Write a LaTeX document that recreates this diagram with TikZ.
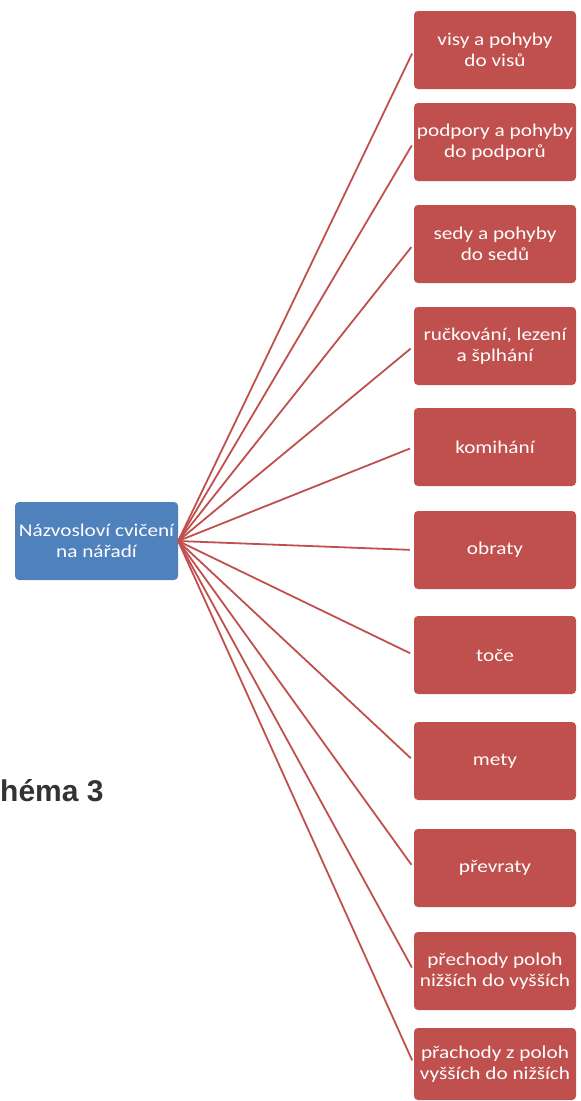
\documentclass[tikz,border=0pt]{standalone}
\usepackage{fontspec}
\usepackage{xcolor}
\setmainfont{Carlito}[FakeStretch=1.18]
\newfontfamily\schemafont{Liberation Sans}
\usetikzlibrary{positioning}

\definecolor{boxred}{HTML}{C0504D}
\definecolor{boxblue}{HTML}{4F81BD}

\begin{document}
\begin{tikzpicture}[x=1pt, y=-1pt, node distance=102pt,
    topic/.style={fill=boxred, rounded corners=4pt, text=white, align=center,
        minimum width=162pt, minimum height=78pt, inner sep=0pt,
        font=\fontsize{18}{21}\selectfont},
    root/.style={topic, fill=boxblue, minimum width=163pt},
    link/.style={draw=boxred, line width=1.8pt, shorten >=4pt}]
    \useasboundingbox (0,0) rectangle (581,1101);

    \node[root] (root) at (96.5,541) {Názvosloví cvičení\\na nářadí};

    \node[topic] (visy) at (495,50) {visy a pohyby\\do visů};
    \node[topic, below of=visy, node distance=92pt] (podpory) {podpory a pohyby\\do podporů};
    \node[topic, below of=podpory] (sedy) {sedy a pohyby\\do sedů};
    \node[topic, below of=sedy] (ruckovani) {ručkování, lezení\\a šplhání};
    \node[topic, below of=ruckovani, node distance=101pt] (komihani) {komihání};
    \node[topic, below of=komihani, node distance=103pt] (obraty) {obraty};
    \node[topic, below of=obraty, node distance=105pt] (toce) {toče};
    \node[topic, below of=toce, node distance=106pt] (mety) {mety};
    \node[topic, below of=mety, node distance=107pt] (prevraty) {převraty};
    \node[topic, below of=prevraty, node distance=103pt] (prechody) {přechody poloh\\nižších do vyšších};
    \node[topic, below of=prechody, node distance=93pt, minimum height=72pt] (prachody) {přachody z poloh\\vyšších do nižších};

    \node[anchor=base west, inner sep=0pt, text=black!80,
        font=\schemafont\bfseries\fontsize{30}{30}\selectfont] (schema) at (0,801) {héma 3};

    \draw[link] (root.east) -- (visy.west);
    \draw[link] (root.east) -- (podpory.west);
    \draw[link] (root.east) -- (sedy.west);
    \draw[link] (root.east) -- (ruckovani.west);
    \draw[link] (root.east) -- (komihani.west);
    \draw[link] (root.east) -- (obraty.west);
    \draw[link] (root.east) -- (toce.west);
    \draw[link] (root.east) -- (mety.west);
    \draw[link] (root.east) -- (prevraty.west);
    \draw[link] (root.east) -- (prechody.west);
    \draw[link] (root.east) -- (prachody.west);

\end{tikzpicture}
\end{document}
